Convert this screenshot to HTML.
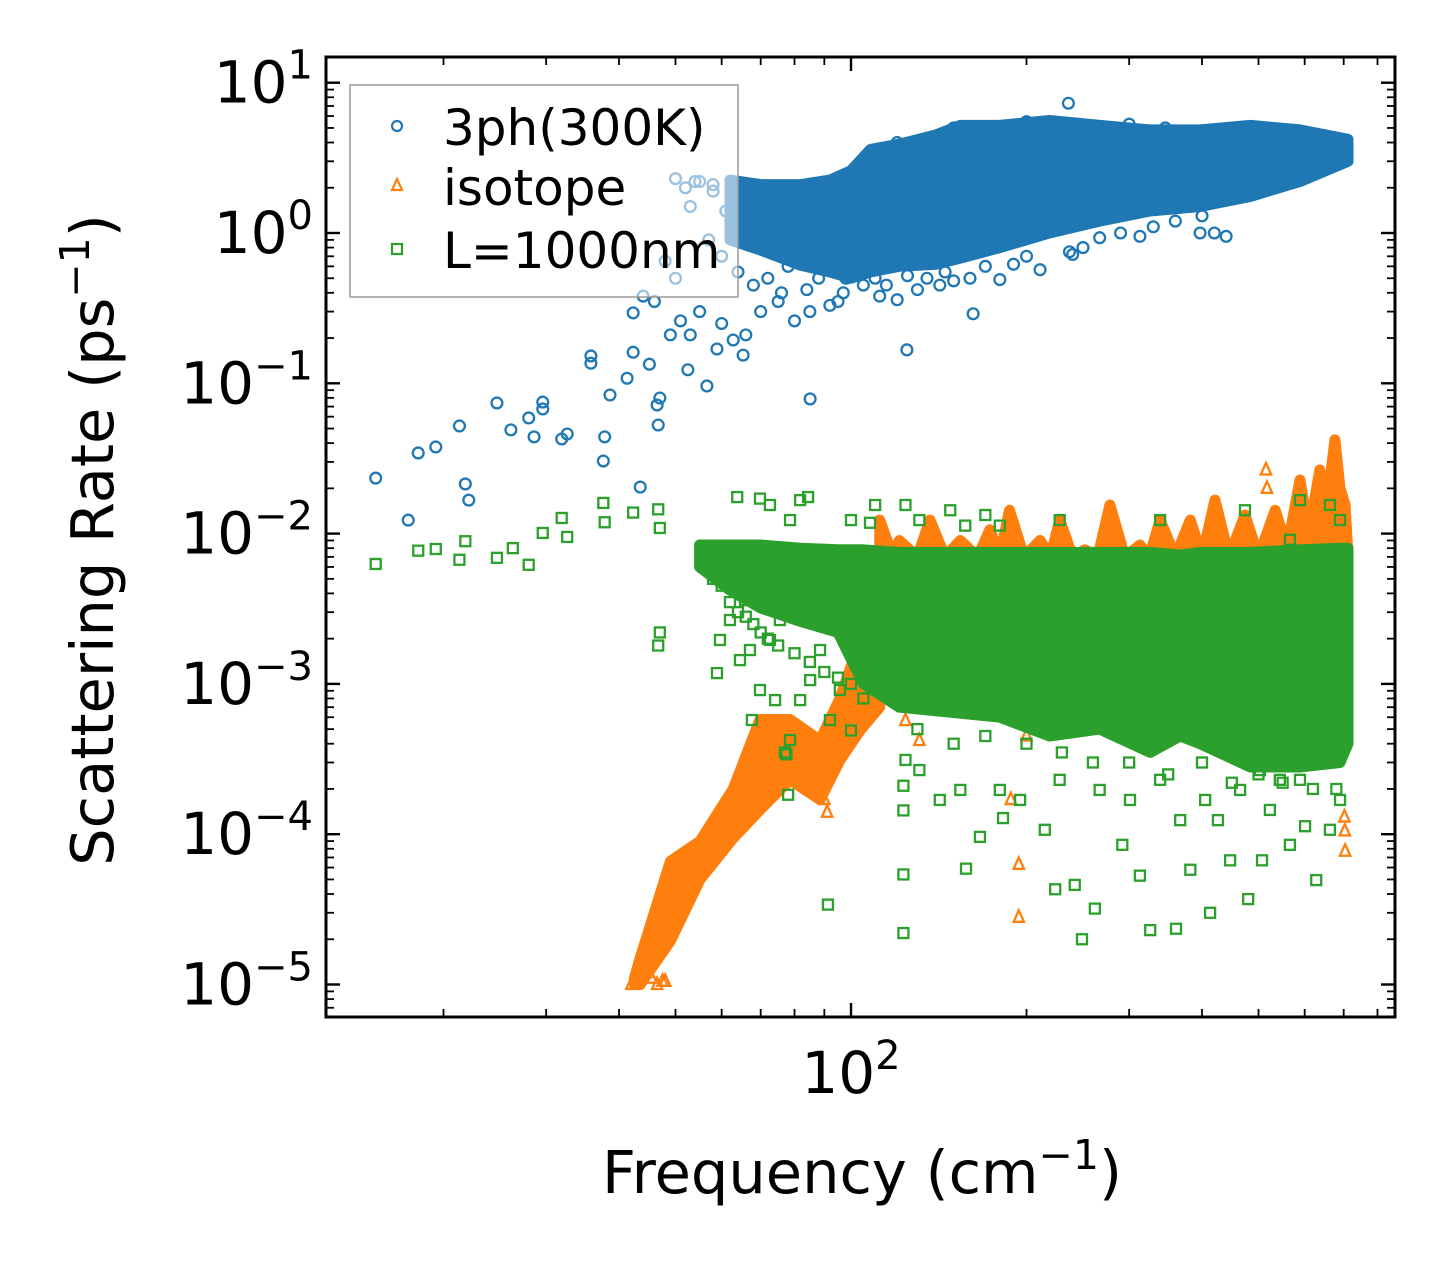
<!DOCTYPE html>
<html><head><meta charset="utf-8"><title>Scattering rate vs frequency</title>
<style>
html,body{margin:0;padding:0;background:#fff;}
svg{display:block;font-family:"DejaVu Sans","Liberation Sans",sans-serif;}
</style></head>
<body>
<svg id="chart" width="1455" height="1266" viewBox="0 0 1455 1266" xmlns="http://www.w3.org/2000/svg">
<rect width="1455" height="1266" fill="#fff"/>
<g id="plot"></g>
<g id="axes"></g>
</svg>
<script>
// ---- axis domain ----
const xDecades = [2];
const xMinorValues = [20,30,40,50,60,70,80,90,200,300,400,500,600,700,800];
const yDecades = [1,0,-1,-2,-3,-4,-5];

// ---- 3ph (300K) dense core band ----
const bandBlueFreq = [62,70,82,92,100,108,121,140,154,180,219,267,326,397,484,589,712];
const bandBlueHi   = [2.25,2.1,2.1,2.25,2.6,3.6,3.9,4.5,5.2,5.2,5.6,5.2,4.85,4.85,5.2,4.85,4.2];
const bandBlueLo   = [0.9,0.77,0.61,0.55,0.5,0.55,0.6,0.62,0.68,0.8,1.0,1.2,1.4,1.5,1.75,2.2,3.0];
// ---- 3ph scattered points ----
const blueFreq = [15.3,18.1,19.4,17.4,21.3,21.8,22.1,24.7,26.1,28.0,29.6,29.6,28.6,31.9,32.6,35.8,35.8,37.6,37.8,38.6,41.3,42.3,43.5,42.3,45.1,46.7,47.0,46.5,52.5,53.0,56.6,58.9,62.8,65.3,85.1,124.7,49,51,55,60,66,70,75,80,85,92,97,105,112,120,130,142,160,180,211,237,267,313,397,162,240,46,50,48,44,57,236,346,54,58,61,64,
64,68,72,76,78,84,88,95,98,103,110,115,125,135,145,150,170,190,200,250,290,330,360,400,420,440,60,63,65,58,55,52,50,53,120,150,200,300];
const blueRate = [0.0234,0.0344,0.0377,0.0123,0.052,0.0214,0.0167,0.074,0.049,0.0588,0.075,0.0675,0.044,0.0426,0.046,0.152,0.136,0.0304,0.044,0.0836,0.108,0.294,0.0204,0.161,0.134,0.0528,0.0798,0.0717,0.123,0.21,0.096,0.169,0.194,0.154,0.0787,0.167,0.21,0.26,0.3,0.25,0.21,0.3,0.35,0.26,0.3,0.33,0.4,0.45,0.38,0.36,0.42,0.45,0.5,0.49,0.57,0.75,0.93,0.95,1.0,0.29,0.72,0.35,0.5,0.65,0.38,0.9,7.3,5.0,2.2,1.9,1.4,1.7,
0.55,0.45,0.5,0.4,0.6,0.42,0.5,0.35,0.5,0.55,0.5,0.45,0.52,0.5,0.55,0.48,0.6,0.62,0.7,0.8,1.0,1.1,1.2,1.3,1.0,0.95,0.7,1.5,2.0,2.1,2.2,2.0,2.3,1.5,4.0,5.0,5.5,5.3];

// ---- isotope bands ----
const bandOrangeFreq = [42.5,43.5,49,55.1,62.8,69.8,78.6,88.5,95.7,103.6,112];
const bandOrangeHi   = [1.1e-5,1.5e-5,6.6e-5,9e-5,2e-4,5.8e-4,5.8e-4,4.2e-4,8e-4,1.95e-3,4e-3];
const bandOrangeLo   = [1.0e-5,1.0e-5,1.95e-5,5e-5,9.4e-5,1.45e-4,2.3e-4,1.7e-4,3.1e-4,4.9e-4,7e-4];
const spikeOrangeFreq = [112,118,121,130,136.6,145,154,165,173,180,187,198,211,220,228,240,252,265,278,295,313,325,339,360,382,400,421,445,474,500,534,560,589,610,637,655,676,690,704,712];
const spikeOrangeHi   = [0.0123,0.007,0.009,0.007,0.0123,0.007,0.009,0.007,0.0106,0.007,0.0143,0.007,0.009,0.007,0.0123,0.007,0.0078,0.007,0.0155,0.007,0.0084,0.007,0.0123,0.007,0.0123,0.007,0.0167,0.007,0.0133,0.007,0.0143,0.008,0.0227,0.01,0.0265,0.015,0.042,0.02,0.0155,0.007];
const spikeOrangeLo = 0.004;
const orangeFreq = [515,517,194,194,188,704,702,703,194,200,124,131,91,90,42,44.5,45.5,47.5,46.5,48];
const orangeRate = [0.0265,0.02,6.3e-5,2.8e-5,1.7e-4,7.7e-5,1.3e-4,1.05e-4,5.7e-4,4.5e-4,5.7e-4,4.2e-4,1.4e-4,1.7e-4,1.0e-5,1.2e-5,1.1e-5,1.05e-5,1.0e-5,1.05e-5];

// ---- L=1000nm band ----
const bandGreenFreq = [55,62,70,82,95,105,121,180,219,267,326,367,397,484,589,690,712];
const bandGreenHi   = [0.0084,0.0084,0.0084,0.008,0.0078,0.0078,0.0075,0.0075,0.0075,0.0075,0.0075,0.0072,0.0075,0.0075,0.0078,0.008,0.008];
const bandGreenLo   = [0.006,0.0042,0.0032,0.0026,0.0022,0.001,0.0007,0.0006,0.00045,0.0005,0.00035,0.00045,0.0004,0.00028,0.00028,0.0003,0.0004];
// ---- L=1000nm scattered points ----
const greenFreq = [15.3,18.1,19.4,21.3,21.8,24.7,26.3,28,29.6,31.9,32.6,37.6,37.8,42.3,46.7,47,47,46.7,58.9,67.6,77,78,77.5,91.3,123,123,123,123,
157.5,166.4,182.3,195,215,224,249,242,262,292,313,326,361,367,382,405,413,426,447,480,507,523,566,601,628,663,690,180,228,267,301,465,544,589,339,503,142,154,131,124,
63.8,69.8,72.6,81.8,78.6,84.4,100,107.8,110,124,131,148,157,170,180,228,339,474,589,663,690,566,
59.6,62,64.5,67.1,69.8,74.1,78.6,81.8,85.1,92,100,75.5,65.8,72.6,88.5,95.7,
56,58,60,62,64,66,68,70,72,75,80,85,90,95,100,105,60,65,
130,150,170,200,230,260,300,350,400,450,500,550,620,680];
const greenRate = [0.00628,0.0077,0.0079,0.0067,0.0089,0.0069,0.008,0.0062,0.0101,0.0127,0.0095,0.016,0.0119,0.0138,0.0145,0.0109,0.0022,0.0018,0.00118,0.000575,0.00035,0.000183,0.00034,3.4e-5,2.2e-5,5.4e-5,1.44e-4,2.1e-4,
5.9e-5,9.6e-5,1.28e-4,1.69e-4,1.07e-4,4.3e-5,2.0e-5,4.6e-5,3.2e-5,8.5e-5,5.3e-5,2.3e-5,2.35e-5,1.24e-4,5.8e-5,1.69e-4,3.0e-5,1.24e-4,6.7e-5,3.7e-5,6.7e-5,1.45e-4,8.5e-5,1.13e-4,4.95e-5,1.07e-4,1.69e-4,1.97e-4,2.3e-4,1.97e-4,1.69e-4,1.97e-4,2.3e-4,2.3e-4,2.3e-4,2.67e-4,1.69e-4,1.97e-4,2.67e-4,3.12e-4,
0.0175,0.0171,0.0155,0.0167,0.0123,0.0175,0.0123,0.0118,0.0155,0.0155,0.0123,0.0143,0.0113,0.0133,0.0113,0.0123,0.0123,0.0143,0.0167,0.0155,0.0123,0.0091,
0.00196,0.00266,0.00144,0.00168,0.00091,0.00078,0.000423,0.00078,0.00106,0.000575,0.00049,0.00266,0.00361,0.00196,0.00168,0.00091,
0.006,0.005,0.0045,0.0035,0.003,0.0028,0.0025,0.0022,0.002,0.0018,0.0016,0.0014,0.0012,0.0011,0.001,0.0008,0.0055,0.0065,
0.0005,0.0004,0.00045,0.0004,0.00035,0.0003,0.0003,0.00025,0.0003,0.00022,0.00025,0.00022,0.0002,0.0002];

// ---- scales ----
const X0 = 851, XDEC = 583, Y0 = 233, YDEC = 150.3;
function xs(f){ return X0 + XDEC*(Math.log10(f)-2); }
function ys(v){ return Y0 - YDEC*Math.log10(v); }
const L=326, R=1395, T=57, B=1017;
const NS="http://www.w3.org/2000/svg";
const plot=document.getElementById('plot');
const axes=document.getElementById('axes');
function mk(tag, attrs, parent){
  const e=document.createElementNS(NS,tag);
  for(const k in attrs) e.setAttribute(k, attrs[k]);
  parent.appendChild(e); return e;
}
const BLUE="#1f77b4", ORANGE="#ff7f0e", GREEN="#2ca02c";

const defs=mk('defs',{},plot);
const cp=mk('clipPath',{id:'clip'},defs);
mk('rect',{x:L,y:T,width:R-L,height:B-T},cp);
const gBlue=mk('g',{'clip-path':'url(#clip)'},plot);


const gOrange=mk('g',{'clip-path':'url(#clip)'},plot);


const gGreen=mk('g',{'clip-path':'url(#clip)'},plot);



function band(freq, hi, lo, color, parent, name){
  let pts=[];
  for(let i=0;i<freq.length;i++) pts.push(xs(freq[i]).toFixed(1)+','+ys(hi[i]).toFixed(1));
  for(let i=freq.length-1;i>=0;i--){
    const l = Array.isArray(lo)? lo[i] : lo;
    pts.push(xs(freq[i]).toFixed(1)+','+ys(l).toFixed(1));
  }
  const p=mk('polygon',{points:pts.join(' '),fill:color,stroke:color,'stroke-width':11,'stroke-linejoin':'round'},parent);
  
  
}
function circle(f,v,parent){
  const c=mk('circle',{cx:xs(f),cy:ys(v),r:5.4,fill:'none',stroke:BLUE,'stroke-width':2.3},parent);
  
  
}
function tri(f,v,parent){
  const x=xs(f), y=ys(v);
  const p=mk('polygon',{points:`${x},${y-7} ${x-5.2},${y+4.5} ${x+5.2},${y+4.5}`,fill:'none',stroke:ORANGE,'stroke-width':2.3},parent);
  
  
}
function sq(f,v,parent){
  const x=xs(f), y=ys(v);
  const r=mk('rect',{x:x-5,y:y-5,width:10,height:10,fill:'none',stroke:GREEN,'stroke-width':2.3},parent);
  
  
}

band(bandBlueFreq,bandBlueHi,bandBlueLo,BLUE,gBlue,'band-3ph');
for(let i=0;i<blueFreq.length;i++) circle(blueFreq[i],blueRate[i],gBlue);
band(bandOrangeFreq,bandOrangeHi,bandOrangeLo,ORANGE,gOrange,'band-isotope-rise');
band(spikeOrangeFreq,spikeOrangeHi,spikeOrangeLo,ORANGE,gOrange,'band-isotope-spikes');
for(let i=0;i<orangeFreq.length;i++) tri(orangeFreq[i],orangeRate[i],gOrange);
band(bandGreenFreq,bandGreenHi,bandGreenLo,GREEN,gGreen,'band-l1000nm');
for(let i=0;i<greenFreq.length;i++) sq(greenFreq[i],greenRate[i],gGreen);

function line(x1,y1,x2,y2,w,parent,name){
  const l=mk('line',{x1,y1,x2,y2,stroke:'#000','stroke-width':w},parent);
  
  
}
xDecades.forEach(d=>{
  const x=xs(Math.pow(10,d));
  line(x,B,x,B-14,2.4,axes,'x-major-tick');
  line(x,T,x,T+14,2.4,axes,'x-major-tick-top');
  const t=mk('text',{x:x,y:1093,'text-anchor':'middle','font-size':58,fill:'#000'},axes);
  
  
  t.textContent='10';
  const s=mk('tspan',{dy:-24,'font-size':40},t); s.textContent=String(d);
});
xMinorValues.forEach(f=>{
  const x=xs(f);
  if(x<L||x>R) return;
  line(x,B,x,B-8,1.8,axes,'x-minor-tick');
  line(x,T,x,T+8,1.8,axes,'x-minor-tick-top');
});
yDecades.forEach(d=>{
  const y=ys(Math.pow(10,d));
  line(L,y,L+14,y,2.4,axes,'y-major-tick');
  line(R,y,R-14,y,2.4,axes,'y-major-tick-right');
  const t=mk('text',{x:313,y:y+20,'text-anchor':'end','font-size':58,fill:'#000'},axes);
  
  
  t.textContent='10';
  const s=mk('tspan',{dy:-24,'font-size':40},t); s.textContent=(d<0?'\u2212'+(-d):String(d));
  for(let m=2;m<=9;m++){
    const ym=ys(m*Math.pow(10,d));
    if(ym<T||ym>B) continue;
    line(L,ym,L+8,ym,1.8,axes,'y-minor-tick');
    line(R,ym,R-8,ym,1.8,axes,'y-minor-tick-right');
  }
});
for(let m=2;m<=9;m++){ const ym=ys(m*1e-6); if(ym>=T&&ym<=B){ line(L,ym,L+8,ym,1.8,axes,'y-minor-tick'); line(R,ym,R-8,ym,1.8,axes,'y-minor-tick-right'); } }

const fr=mk('rect',{x:L,y:T,width:R-L,height:B-T,fill:'none',stroke:'#000','stroke-width':3},axes);



const xt=mk('text',{x:862,y:1193,'text-anchor':'middle','font-size':59,fill:'#000'},axes);


xt.appendChild(document.createTextNode('Frequency (cm'));
let s1=mk('tspan',{dy:-24,'font-size':41},xt); s1.textContent='\u22121';
let s2=mk('tspan',{dy:24},xt); s2.textContent=')';

const yt=mk('text',{x:0,y:0,'text-anchor':'middle','font-size':59,fill:'#000',transform:'translate(113,540) rotate(-90)'},axes);


yt.appendChild(document.createTextNode('Scattering Rate (ps'));
let s3=mk('tspan',{dy:-24,'font-size':41},yt); s3.textContent='\u22121';
let s4=mk('tspan',{dy:24},yt); s4.textContent=')';

const lg=mk('g',{},axes);


mk('rect',{x:350,y:85,width:388,height:212,fill:'#fff','fill-opacity':0.55,stroke:'#999','stroke-width':1.5},lg);
const entries=[['3ph(300K)',130,'c'],['isotope',190,'t'],['L=1000nm',253,'s']];
entries.forEach(e=>{
  const g=mk('g',{},lg);
  
  
  const y=e[1];
  if(e[2]==='c') mk('circle',{cx:397,cy:y-4,r:5,fill:'none',stroke:BLUE,'stroke-width':2.2},g);
  if(e[2]==='t') mk('polygon',{points:`397,${y-11} 392,${y} 402,${y}`,fill:'none',stroke:ORANGE,'stroke-width':2.2},g);
  if(e[2]==='s') mk('rect',{x:392,y:y-9,width:10,height:10,fill:'none',stroke:GREEN,'stroke-width':2.2},g);
  const t=mk('text',{x:443,y:y+15,'font-size':50,fill:'#000'},g);
  t.textContent=e[0];
});
</script>
</body></html>
